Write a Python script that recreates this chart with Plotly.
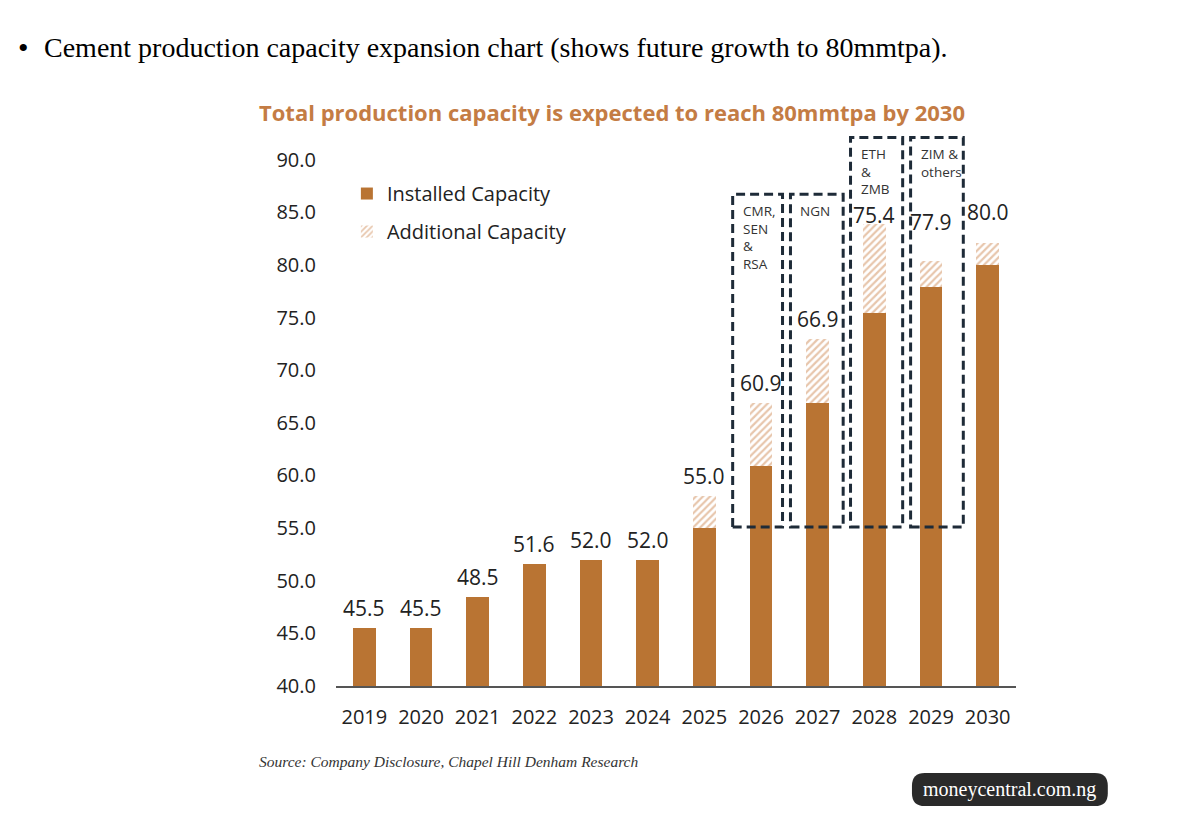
import plotly.graph_objects as go

# ─── data ────────────────────────────────────
YEARS = ["2019", "2020", "2021", "2022", "2023", "2024",
         "2025", "2026", "2027", "2028", "2029", "2030"]
INSTALLED = [45.5, 45.5, 48.5, 51.6, 52.0, 52.0, 55.0, 60.9, 66.9, 75.4, 77.9, 80.0]
ADDITIONAL = [0, 0, 0, 0, 0, 0, 3.0, 6.0, 6.1, 8.5, 2.5, 2.1]

BOX_LABELS = ["CMR,<br>SEN<br>&<br>RSA", "NGN", "ETH<br>&<br>ZMB", "ZIM &<br>others"]
BOX_TOPS = [86.7, 86.7, 92.1, 92.1]
BOX_BOTTOM = 55.1

# ─── style ───────────────────────────────────
COLOR_BAR = "#B97433"
COLOR_HATCH = "#D08D5A"
COLOR_TITLE = "#C47C44"
COLOR_TEXT = "#222222"
COLOR_BOX = "#1E2B38"
FONT = "Open Sans"

fig = go.Figure()

fig.add_trace(go.Bar(
    x=YEARS, y=INSTALLED, name="Installed Capacity",
    marker=dict(color=COLOR_BAR, line=dict(width=0)),
    legendgroup="a",
))
fig.add_trace(go.Bar(
    x=YEARS, y=ADDITIONAL, name="Additional Capacity",
    marker=dict(
        color="white",
        line=dict(width=0),
        pattern=dict(shape="/", fgcolor=COLOR_HATCH, bgcolor="white",
                     size=5, solidity=0.45),
    ),
    legendgroup="b",
))

# value labels above each stack (category index used for x)
label_shift = {9: 9, 10: 39, 11: 31}
for i, (inst, add) in enumerate(zip(INSTALLED, ADDITIONAL)):
    fig.add_annotation(
        x=i, y=inst + add, text=f"{inst:.1f}", showarrow=False,
        yanchor="middle", yshift=label_shift.get(i, 20),
        font=dict(family=FONT, size=21, color=COLOR_TEXT),
    )

# dashed boxes round the expansion projects
box_x = [(6.5, 7.38), (7.52, 8.45), (8.58, 9.5), (9.64, 10.57)]
for (x0, x1), top, lab in zip(box_x, BOX_TOPS, BOX_LABELS):
    fig.add_shape(
        type="rect", xref="x", yref="y", x0=x0, x1=x1, y0=BOX_BOTTOM, y1=top,
        line=dict(color=COLOR_BOX, width=3, dash="9px,5px"),
        fillcolor="rgba(0,0,0,0)",
    )
    fig.add_annotation(
        x=x0, y=top, xref="x", yref="y", text=lab, showarrow=False,
        xanchor="left", yanchor="top", align="left", xshift=8, yshift=-6,
        font=dict(family=FONT, size=13.5, color="#333333"),
    )

# title, header, source, watermark
fig.add_annotation(
    text="<b>Total production capacity is expected to reach 80mmtpa by 2030</b>",
    xref="paper", yref="paper", x=-0.116, y=1.029, xanchor="left", yanchor="middle",
    showarrow=False, font=dict(family=FONT, size=22, color=COLOR_TITLE),
)
fig.add_annotation(
    text="•", xref="paper", yref="paper", x=-0.470, y=1.145,
    xanchor="left", yanchor="middle", showarrow=False,
    font=dict(family="Liberation Serif", size=30, color="#000000"),
)
fig.add_annotation(
    text="Cement production capacity expansion chart (shows future growth to 80mmtpa).",
    xref="paper", yref="paper", x=-0.432, y=1.145, xanchor="left", yanchor="middle",
    showarrow=False, font=dict(family="Liberation Serif", size=28, color="#000000"),
)
fig.add_annotation(
    text="<i>Source: Company Disclosure, Chapel Hill Denham Research</i>",
    xref="paper", yref="paper", x=-0.116, y=-0.136, xanchor="left", yanchor="middle",
    showarrow=False, font=dict(family="Liberation Serif", size=15.5, color="#333333"),
)

# rounded watermark badge
bx0, bx1, by0, by1 = 0.847, 1.135, -0.215, -0.156
rx, ry = 0.019, 0.023
badge = (f"M {bx0 + rx},{by0} L {bx1 - rx},{by0} Q {bx1},{by0} {bx1},{by0 + ry} "
         f"L {bx1},{by1 - ry} Q {bx1},{by1} {bx1 - rx},{by1} "
         f"L {bx0 + rx},{by1} Q {bx0},{by1} {bx0},{by1 - ry} "
         f"L {bx0},{by0 + ry} Q {bx0},{by0} {bx0 + rx},{by0} Z")
fig.add_shape(type="path", xref="paper", yref="paper", path=badge,
              fillcolor="#2A2A2A", line=dict(width=0), layer="above")
fig.add_annotation(
    text="moneycentral.com.ng",
    xref="paper", yref="paper", x=(bx0 + bx1) / 2, y=(by0 + by1) / 2,
    xanchor="center", yanchor="middle",
    showarrow=False, font=dict(family="Liberation Serif", size=20, color="white"),
)

fig.update_xaxes(
    type="category", range=[-0.5, 11.5],
    showline=True, linecolor="#555555", linewidth=2,
    showgrid=False, ticks="outside", ticklen=12, tickcolor="rgba(0,0,0,0)",
    tickfont=dict(family=FONT, size=20, color=COLOR_TEXT),
)
fig.update_yaxes(
    range=[40, 93], tickvals=[40, 45, 50, 55, 60, 65, 70, 75, 80, 85, 90],
    tickformat=".1f", showgrid=False, zeroline=False, showline=False,
    ticks="outside", ticklen=15, tickcolor="rgba(0,0,0,0)",
    tickfont=dict(family=FONT, size=20, color=COLOR_TEXT),
)

fig.update_layout(
    barmode="stack", bargap=0.6,
    width=1200, height=826,
    margin=dict(l=328, r=192, t=120, b=148),
    plot_bgcolor="white", paper_bgcolor="white",
    showlegend=True,
    legend=dict(
        x=0.016, y=0.9175, xanchor="left", yanchor="top",
        font=dict(family=FONT, size=20, color=COLOR_TEXT),
        bgcolor="rgba(0,0,0,0)", tracegroupgap=9, traceorder="grouped",
        itemwidth=30,
    ),
)

fig.write_html("out.html")
